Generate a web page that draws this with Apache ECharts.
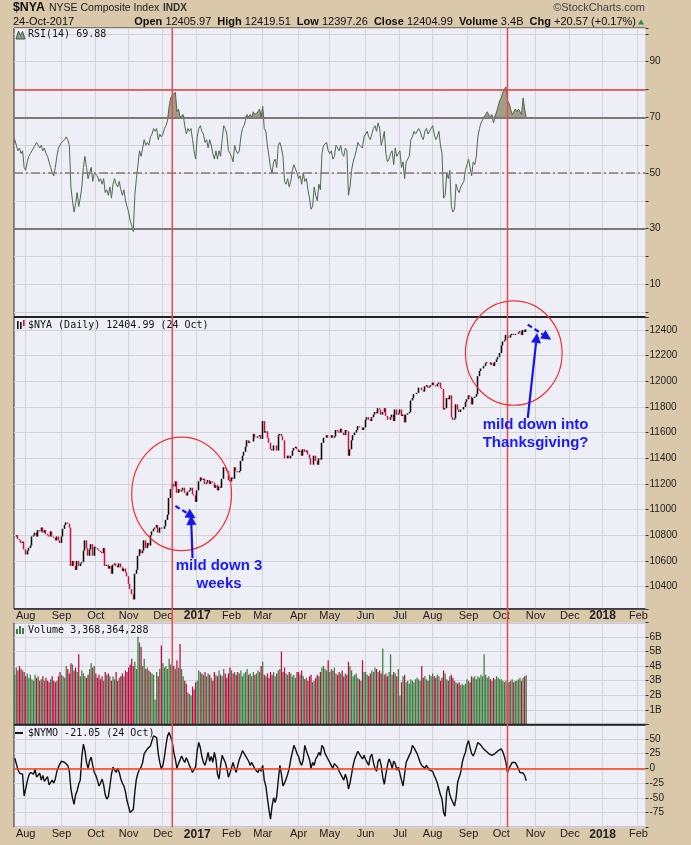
<!DOCTYPE html>
<html><head><meta charset="utf-8">
<script src="https://cdn.jsdelivr.net/npm/echarts@6/dist/echarts.min.js"></script>
<style>html,body{margin:0;padding:0;background:#d9c8a9;}#c{width:691px;height:845px;}</style>
</head><body><div id="c"></div>
<script>
// ---------------- DATA (one value per weekday, Jul 21 2016 .. Oct 24 2017) ----------------
const closes = [
/*Jul16*/ 10790,10800,10770,10760,10740,10750,10690,
/*Aug16*/ 10650,10680,10700,10720,10790, 10800,10820,10790,10840,10830, 10860,10820,10840,10810,10800, 10790,10830,10790,10780,10760, 10790,10760,10740,
/*Sep16*/ 10790,10850, 10880,10900,10890,10860,10560, 10600,10560,10530,10600,10560, 10580,10590,10680,10760,10700, 10640,10690,10730,10640,10710,
/*Oct16*/ 10700,10690,10680,10670,10660, 10700,10560,10570,10540,10560, 10500,10570,10580,10560,10550, 10580,10550,10520,10540,10510, 10480,
/*Nov16*/ 10420,10380,10340,10300, 10500,10530,10640,10690,10660, 10680,10760,10700,10740,10720, 10800,10830,10850,10860,10880, 10820,10860,10850,
/*Dec16*/ 10850,10870, 10920,10960,11090,11160,11200, 11180,11220,11130,11160,11140, 11150,11170,11130,11110,11140, 11150,11170,11120,11110,11060,
/*Jan17*/ 11150,11220,11250,11230,11240, 11200,11210,11230,11200,11220, 11210,11170,11190,11150,11180, 11170,11240,11330,11320,11300, 11230,11220,
/*Feb17*/ 11250,11240,11330, 11300,11290,11300,11380,11420, 11450,11490,11540,11520,11530, 11530,11590,11560,11560,11570, 11580,11550,
/*Mar17*/ 11690,11600,11610, 11560,11520,11470,11460,11500, 11500,11460,11580,11590,11570, 11540,11400,11400,11420,11400, 11420,11460,11480,11490,11470,
/*Apr17*/ 11450,11460,11420,11470,11450, 11460,11430,11400,11350,11350, 11420,11380,11350,11400,11390, 11520,11560,11560,11580,11560,
/*May17*/ 11560,11580,11560,11570,11620, 11610,11600,11630,11600,11580, 11620,11610,11420,11470,11540, 11580,11600,11620,11650,11640, 11640,11620,11640,
/*Jun17*/ 11700,11720, 11700,11690,11720,11740,11760, 11750,11790,11780,11740,11760, 11790,11730,11700,11700,11720, 11740,11690,11780,11740,11750,
/*Jul17*/ 11780,11730,11740,11680,11740, 11750,11760,11850,11870,11900, 11900,11910,11950,11950,11930, 11920,11960,11970,11950,11960, 11970,
/*Aug17*/ 11990,11970,11960,11980, 11990,11950,11940,11780,11790, 11870,11860,11890,11720,11700, 11710,11820,11780,11760,11780, 11780,11800,11840,11860,
/*Sep17*/ 11890, 11880,11820,11870,11880,11900, 12040,12080,12100,12100,12120, 12140,12150,12150,12130,12140, 12120,12150,12170,12190,12220,
/*Oct17*/ 12280,12310,12320,12360,12350, 12340,12360,12370,12360,12370, 12370,12380,12390,12360,12400, 12384.42,12404.99
];
const rsi14 = [
/*Jul16*/ 62,60,58,59,57,58,52,
/*Aug16*/ 51,54,56,57,58, 59,60,61,60,59, 60,58,59,57,56, 54,52,50,49,52, 56,59,60,
/*Sep16*/ 61,61, 62,63,62,60,45, 40,36,39,43,38, 41,45,52,56,52, 48,50,52,47,50,
/*Oct16*/ 50,49,47,48,46, 48,43,44,42,45, 41,46,48,46,45, 47,44,42,44,40, 38,
/*Nov16*/ 36,33,31,29, 42,48,53,58,56, 59,62,60,61,60, 63,64,66,65,66, 62,64,63,
/*Dec16*/ 64,66, 67,69,74,77,78, 78,79,72,73,70, 70,71,67,64,66, 65,66,62,58,55,
/*Jan17*/ 63,66,67,65,64, 61,62,59,62,60, 57,55,58,55,58, 56,62,67,66,64, 58,57,
/*Feb17*/ 56,54,60, 58,57,58,63,66, 67,69,71,70,71, 70,72,71,71,72, 73,70,
/*Mar17*/ 74,66,65, 60,56,52,50,54, 55,52,60,61,59, 56,47,46,48,45, 47,51,53,53,50,
/*Apr17*/ 48,49,46,50,47, 48,44,41,37,38, 45,42,40,46,44, 57,60,60,61,58,
/*May17*/ 57,58,55,56,60, 59,58,60,57,56, 59,58,42,45,51, 54,56,58,61,60, 60,59,63,
/*Jun17*/ 64,65, 63,62,64,66,67, 65,68,66,60,62, 65,57,54,55,57, 58,53,59,56,57,
/*Jul17*/ 58,52,54,48,54, 55,56,62,63,65, 64,64,66,65,63, 62,65,66,64,65, 66,
/*Aug17*/ 67,64,62,63, 65,60,57,41,42, 50,48,51,38,36, 37,46,44,43,45, 45,47,51,53,
/*Sep17*/ 55, 52,49,54,53,56, 63,66,68,68,70, 71,72,71,70,71, 68,70,72,74,76,
/*Oct17*/ 77,79,80,81,76, 75,73,71,72,73, 72,73,72,71,77, 73,69.88
];
const volumeB = [
/*Jul16*/ 3.4,3.9,3.7,4.0,3.8,3.7,3.6,
/*Aug16*/ 3.3,3.5,3.2,3.4,3.1, 3.0,3.4,3.2,3.3,3.0, 3.1,3.3,3.0,3.2,3.0, 2.9,3.1,3.3,3.0,2.9, 3.0,3.3,3.6,
/*Sep16*/ 3.4,3.3, 3.2,4.0,3.8,3.5,4.2, 4.1,3.7,3.9,3.6,4.8, 3.3,3.7,3.5,3.3,3.2, 3.4,3.8,4.2,3.9,4.0,
/*Oct16*/ 3.5,3.2,3.4,3.1,3.3, 3.0,3.6,3.4,3.5,3.3, 3.0,3.3,3.1,3.6,3.0, 3.2,3.3,3.5,3.3,3.7, 3.6,
/*Nov16*/ 3.9,4.1,4.5,4.0, 4.3,3.8,6.0,5.6,5.3, 4.0,4.5,3.8,3.9,3.7, 3.6,3.5,3.4,1.7,3.6, 3.3,3.8,5.4,
/*Dec16*/ 4.2,3.9, 4.0,3.8,4.5,4.1,3.9, 4.0,3.8,4.4,3.9,5.5, 3.8,3.3,3.0,2.8,2.2, 2.1,2.0,2.6,2.4,2.9,
/*Jan17*/ 3.0,3.7,3.6,3.5,3.4, 3.6,3.3,3.5,3.4,3.2, 3.0,3.6,3.4,3.3,3.7, 3.4,3.3,3.8,3.5,3.2, 3.5,3.9,
/*Feb17*/ 3.7,3.5,3.6, 3.4,3.6,3.5,3.7,3.3, 3.5,3.6,3.8,3.4,3.5, 3.3,3.6,3.4,3.5,3.7, 3.6,4.0,
/*Mar17*/ 4.3,3.4,3.3, 3.5,3.2,3.6,3.4,3.6, 3.3,3.5,3.7,3.8,5.0, 3.6,3.9,3.5,3.4,3.6, 3.5,3.3,3.4,3.2,3.6,
/*Apr17*/ 3.6,3.4,3.7,3.3,3.1, 3.2,3.0,3.3,3.4,2.9, 3.0,3.2,3.4,3.3,3.6, 3.9,4.0,3.8,3.7,4.4,
/*May17*/ 3.6,3.8,3.7,3.9,3.5, 3.4,3.6,3.5,3.7,3.3, 3.5,3.4,4.3,4.0,3.7, 3.3,3.4,3.5,3.2,3.1, 3.0,4.4,3.6,
/*Jun17*/ 3.6,3.4, 3.3,3.5,3.7,3.6,3.9, 3.8,3.6,3.7,3.5,5.2, 3.4,3.5,3.3,3.6,4.8, 3.4,3.6,3.5,3.3,3.8,
/*Jul17*/ 2.0,2.9,3.3,3.4,2.9, 3.0,2.8,3.1,3.0,2.9, 3.1,3.2,3.1,3.0,4.0, 3.2,3.3,3.1,3.0,3.4, 3.3,
/*Aug17*/ 3.5,3.3,3.2,3.4, 3.3,3.0,3.2,3.7,3.5, 3.1,3.0,3.3,3.4,3.2, 3.0,2.9,2.8,2.9,2.7, 2.8,2.7,2.8,3.1,
/*Sep17*/ 3.0, 2.9,3.3,3.2,3.3,3.1, 3.3,3.2,3.4,3.3,4.8, 3.4,3.2,3.3,3.1,3.0, 3.2,3.1,3.3,3.2,3.1,
/*Oct17*/ 3.1,3.0,2.9,3.0,2.8, 2.9,3.0,3.1,2.9,3.0, 3.0,3.1,3.2,3.0,3.2, 3.3,3.368
];
const nymo = [
/*Jul16*/ 17,8,-2,-8,-5,-10,-47,
/*Aug16*/ -35,-22,-12,-7,-5, -10,-2,-15,-18,-8, -20,-12,-22,-25,-14, -28,-30,-20,-25,-18, -5,2,8,
/*Sep16*/ 12,13, 10,8,5,-5,-35, -50,-61,-45,-38,-27, -20,20,41,30,10, 0,13,19,5,-7,
/*Oct16*/ -12,-20,-30,-25,-18, -28,-45,-52,-48,-30, -10,2,-3,-7,0, -7,-18,-25,-30,-40, -55,
/*Nov16*/ -65,-75,-77,-70, -40,-18,-8,-2,2, 10,25,27,33,30, 38,47,55,53,52, 25,10,-1,
/*Dec16*/ 5,20, 40,55,61,58,45, 27,15,0,8,5, 21,15,10,18,12, 5,-1,-7,-5,3,
/*Jan17*/ 30,44,35,20,10, 5,15,27,12,20, 10,27,15,-10,-18, 5,22,25,10,0, -15,-8,
/*Feb17*/ -5,10,0, -7,5,15,22,30, 28,21,18,12,5, 10,8,-1,-3,-7, 0,-5,
/*Mar17*/ 5,-20,-30, -50,-70,-86,-64,-50, -58,-47,-20,5,-10, -30,-25,-18,-10,0, 15,27,39,33,25,
/*Apr17*/ 20,10,5,15,39, 30,27,15,0,10, 5,16,20,27,22, 39,35,25,20,15,
/*May17*/ 15,5,0,8,10, 2,-5,-7,-15,-20, -10,-18,-35,-25,-10, 5,16,22,29,27, 20,16,22,
/*Jun17*/ 15,10, 5,20,24,10,0, -5,12,16,5,-15, -27,-10,5,16,10, 0,12,8,-3,2,
/*Jul17*/ 5,-20,-30,-10,10, 16,22,27,39,35, 33,25,18,10,5, 8,0,5,2,-3, 0,
/*Aug17*/ -5,-12,-18,-25, -35,-45,-52,-75,-81, -40,-30,-45,-52,-58, -64,-50,-24,-15,-7, 10,20,27,40,
/*Sep17*/ 47, 35,25,21,27,30, 44,42,39,35,33, 30,27,25,28,22, 24,25,27,30,32,
/*Oct17*/ 33,28,20,10,-7, 0,5,10,8,10, 5,3,-7,-10,-8, -12,-21.05
];
// tick labels
const rsiTicks = [10,30,50,70,90];
const priceTicks = [10400,10600,10800,11000,11200,11400,11600,11800,12000,12200,12400];
const volTicks = [1,2,3,4,5,6];
const nymoTicks = [-75,-50,-25,0,25,50];
const monthAbbr = ['Jan','Feb','Mar','Apr','May','Jun','Jul','Aug','Sep','Oct','Nov','Dec'];
// axis window and markers
const axisStart = '2016-07-21', axisEnd = '2018-02-07';
const redLineDates = ['2016-12-09','2017-10-06'];
const ellipses = [
  {from:'2016-11-03', to:'2017-02-01', hi:11565, lo:10680},
  {from:'2017-08-30', to:'2017-11-24', hi:12626, lo:11813}
];
const arrows = [
  {from:['2016-12-13',11028], to:['2016-12-30',10932], dashed:true},
  {from:['2016-12-28',10620], to:['2016-12-27',10958], dashed:false},
  {from:['2017-10-25',11714], to:['2017-11-02',12377], dashed:false},
  {from:['2017-10-25',12441], to:['2017-11-15',12324], dashed:true}
];
const notes = [
  {at:['2017-01-20',10494], text:'mild down 3\nweeks'},
  {at:['2017-11-01',11593], text:'mild down into\nThanksgiving?'}
];

// ---------------- BUILD ----------------
const dates = (function(){
  const out=[]; const d=new Date(axisStart+'T00:00:00Z'); const e=new Date(axisEnd+'T00:00:00Z');
  while(d<=e){ const w=d.getUTCDay(); if(w!==0&&w!==6) out.push(d.toISOString().slice(0,10)); d.setUTCDate(d.getUTCDate()+1); }
  return out;
})();
const isMonthStart = dates.map((d,i)=> i>0 && d.slice(0,7)!==dates[i-1].slice(0,7));
const fmtMonth = v => { const m=+v.slice(5,7); return m===1 ? '{y|'+v.slice(0,4)+'}' : monthAbbr[m-1]; };

const candleData = closes.map((c,i)=>{ const o = i? closes[i-1] : c; return [o, c, Math.min(o,c), Math.max(o,c)]; });
const volData = volumeB.map((v,i)=>({value:v, itemStyle:{color: (i===0 || closes[i]>=closes[i-1]) ? '#3f7b3f' : '#b5103d'}}));
const rsiBase = rsi14.map(()=>70);
const rsiOver = rsi14.map(v=>Math.max(0, v-70));

const L = 14, R = 45.5;
const grids = [
  {top:28, height:289},
  {top:317, height:292},
  {top:622.7, height:102},
  {top:724.7, height:102.6}
];
const near = (v, list) => list.some(t => Math.abs(v - t) < 1e-6);
const chart = echarts.init(document.getElementById('c'), null, {renderer:'canvas'});

function xAx(gi, showLabel, margin){
  return {type:'category', gridIndex:gi, data:dates, boundaryGap:true,
    axisLine:{show:false}, axisTick:{show:false},
    splitLine:{show:true, interval:(i)=>isMonthStart[i], lineStyle:{color:'#d3d3d8', width:1}},
    axisLabel:{show:showLabel, interval:(i)=>isMonthStart[i], formatter:fmtMonth, margin:margin,
      fontSize:11, color:'#222', fontFamily:'Arial, Liberation Sans', rich:{y:{fontWeight:'bold', fontSize:12, color:'#222', fontFamily:'Arial, Liberation Sans'}}}
  };
}
function yAx(gi, extra, fmt){
  return Object.assign({type:'value', gridIndex:gi, position:'right', scale:false,
    axisLine:{show:false}, axisTick:{show:true, length:3, inside:false, lineStyle:{color:'#333'}},
    axisLabel:{formatter:fmt, margin:4, fontSize:10, color:'#222', fontFamily:'Arial, Liberation Sans'},
    splitLine:{show:true, lineStyle:{color:'#d3d3d8', width:1}}}, extra);
}

chart.setOption({
  animation:false,
  backgroundColor:'#d9c8a9',
  grid: grids.map(g=>({left:L, right:R, top:g.top, height:g.height, show:true, backgroundColor:'#eeeef6',
    borderColor:'#2a2a2a', borderWidth:1, containLabel:false, outerBoundsMode:'none'})),
  xAxis:[xAx(0,false,0), xAx(1,true,1), xAx(2,false,0), xAx(3,true,1.5)],
  yAxis:[
    yAx(0,{min:-1.7, max:102.1, splitNumber:10}, v=> near(v,rsiTicks)? String(Math.round(v)) : ''),
    yAx(1,{min:10225, max:12501, splitNumber:11}, v=> near(v,priceTicks)? String(Math.round(v)) : ''),
    yAx(2,{min:0, max:6.96, splitNumber:7}, v=> near(v,volTicks)? Math.round(v)+'B' : ''),
    yAx(3,{min:-100, max:74, interval:25}, v=> near(v,nymoTicks)? String(Math.round(v)) : '')
  ],
  series:[
    {type:'line', xAxisIndex:0, yAxisIndex:0, data:rsiBase, stack:'ob', symbol:'none', silent:true,
      lineStyle:{opacity:0}},
    {type:'line', xAxisIndex:0, yAxisIndex:0, data:rsiOver, stack:'ob', symbol:'none', silent:true,
      lineStyle:{opacity:0}, areaStyle:{color:'#a29c89', opacity:1}},
    {type:'line', xAxisIndex:0, yAxisIndex:0, data:rsi14, symbol:'none', silent:true,
      lineStyle:{color:'#4b6b4d', width:1},
      markLine:{silent:true, symbol:['none','none'], label:{show:false}, animation:false,
        data:[
          {yAxis:70, lineStyle:{color:'#7f7874', width:2, type:'solid'}},
          {yAxis:30, lineStyle:{color:'#7f7874', width:2, type:'solid'}},
          {yAxis:50, lineStyle:{color:'#8a7a72', width:1.5, type:[9,3,2,3]}},
          {yAxis:80, lineStyle:{color:'#e03a3a', width:1.5, type:'solid'}}
        ]}},
    {type:'candlestick', xAxisIndex:1, yAxisIndex:1, data:candleData, barWidth:1.2, barMinWidth:1.2, silent:true,
      itemStyle:{color:'#000', color0:'#cf1039', borderColor:'#000', borderColor0:'#cf1039', borderWidth:1.5}},
    {type:'bar', xAxisIndex:2, yAxisIndex:2, data:volData, barWidth:'80%', silent:true},
    {type:'line', xAxisIndex:3, yAxisIndex:3, data:nymo, symbol:'none', silent:true,
      lineStyle:{color:'#111', width:1.4},
      markLine:{silent:true, symbol:['none','none'], label:{show:false}, animation:false,
        data:[{yAxis:0, lineStyle:{color:'#ff3a10', width:1.6, type:'solid'}}]}}
  ]
});

// ---------------- overlays positioned through the axes ----------------
const px = (d, v) => chart.convertToPixel({gridIndex:1}, [d, v]);
const g = [];
const plotRight = 691 - R;
[[317,2],[609,1.5],[724.7,2]].forEach(([y,w])=> g.push({type:'line', shape:{x1:L,y1:y,x2:plotRight,y2:y}, style:{stroke:'#222', lineWidth:w}, z:40}));
redLineDates.forEach(d=>{
  const x = chart.convertToPixel({xAxisIndex:0}, d);
  g.push({type:'line', shape:{x1:x,y1:28,x2:x,y2:827.3}, style:{stroke:'#ec4a4a', lineWidth:1.5}, z:45});
});
ellipses.forEach(e=>{
  const a = px(e.from, e.hi), b = px(e.to, e.lo);
  g.push({type:'ellipse', shape:{cx:(a[0]+b[0])/2, cy:(a[1]+b[1])/2, rx:(b[0]-a[0])/2, ry:(b[1]-a[1])/2},
    style:{fill:'none', stroke:'#ee3434', lineWidth:1.2}, z:50});
});
arrows.forEach(a=>{
  const p0 = px(a.from[0], a.from[1]), p1 = px(a.to[0], a.to[1]);
  const dx=p1[0]-p0[0], dy=p1[1]-p0[1], len=Math.hypot(dx,dy), ux=dx/len, uy=dy/len;
  const head=10, hw=5, bx=p1[0]-ux*head, by=p1[1]-uy*head;
  g.push({type:'line', shape:{x1:p0[0],y1:p0[1],x2:bx,y2:by}, style:{stroke:'#1515f0', lineWidth:2.2, lineDash:a.dashed?[5,3]:null}, z:60});
  g.push({type:'polygon', shape:{points:[[p1[0],p1[1]],[bx-uy*hw,by+ux*hw],[bx+uy*hw,by-ux*hw]]}, style:{fill:'#1515f0'}, z:60});
});
notes.forEach(n=>{
  const p = px(n.at[0], n.at[1]);
  g.push({type:'text', x:p[0], y:p[1], z:60, style:{text:n.text, fill:'#1a1aff', fontSize:15, fontWeight:'bold',
    fontFamily:'Arial, Liberation Sans', align:'center', verticalAlign:'middle', lineHeight:18}});
});
// header
const hf = 'Arial, Liberation Sans';
g.push({type:'text', x:13, y:7.5, z:70, scaleX:0.95, style:{text:'$NYA', fill:'#111', fontSize:13, fontWeight:'bold', fontFamily:hf, verticalAlign:'middle'}});
g.push({type:'text', x:49, y:8, z:70, style:{text:'NYSE Composite Index', fill:'#222', fontSize:10.5, fontFamily:hf, verticalAlign:'middle'}});
g.push({type:'text', x:163, y:8, z:70, style:{text:'INDX', fill:'#333', fontSize:10, fontWeight:'bold', fontFamily:hf, verticalAlign:'middle'}});
g.push({type:'text', x:645, y:8, z:70, style:{text:'\u00A9StockCharts.com', fill:'#444', fontSize:11, fontFamily:hf, align:'right', verticalAlign:'middle'}});
g.push({type:'text', x:13, y:21.5, z:70, style:{text:'24-Oct-2017', fill:'#111', fontSize:11, fontFamily:hf, verticalAlign:'middle'}});
g.push({type:'text', x:636, y:21.5, z:70, style:{
  text:'{b|Open} 12405.97  {b|High} 12419.51  {b|Low} 12397.26  {b|Close} 12404.99  {b|Volume} 3.4B  {b|Chg} +20.57 (+0.17%)',
  fill:'#111', fontSize:11, fontFamily:hf, align:'right', verticalAlign:'middle',
  rich:{b:{fontWeight:'bold', fontSize:11, fontFamily:hf, fill:'#111'}}}});
g.push({type:'polygon', z:70, shape:{points:[[638,24.5],[644,24.5],[641,19.5]]}, style:{fill:'#2e8b3a'}});
// panel labels + icons
const mono = 'DejaVu Sans Mono, monospace';
[['RSI(14) 69.88',34.5],['$NYA (Daily) 12404.99 (24 Oct)',325.5],['Volume 3,368,364,288',630],['$NYMO -21.05 (24 Oct)',733]].forEach(([t,y])=>{
  g.push({type:'text', x:28, y:y, z:70, style:{text:t, fill:'#111', fontSize:10, fontFamily:mono, verticalAlign:'middle'}});
});
g.push({type:'polygon', z:70, shape:{points:[[16,39],[18.5,31],[20.5,35.5],[22.5,31.5],[25,39]]}, style:{fill:'#8a9a84', stroke:'#3f5f40', lineWidth:1}});
g.push({type:'rect', z:70, shape:{x:17,y:321,width:1.6,height:8}, style:{fill:'#111'}});
g.push({type:'rect', z:70, shape:{x:20,y:322,width:1.6,height:7}, style:{fill:'#111'}});
g.push({type:'rect', z:70, shape:{x:23,y:320,width:1.6,height:6}, style:{fill:'#cf1039'}});
g.push({type:'rect', z:70, shape:{x:16,y:629,width:2,height:5}, style:{fill:'#3f7b3f'}});
g.push({type:'rect', z:70, shape:{x:19,y:626,width:2,height:8}, style:{fill:'#3f7b3f'}});
g.push({type:'rect', z:70, shape:{x:22,y:628,width:2,height:6}, style:{fill:'#3f7b3f'}});
g.push({type:'line', z:70, shape:{x1:15,y1:733,x2:23,y2:733}, style:{stroke:'#111', lineWidth:2}});
chart.setOption({graphic:g});
</script></body></html>
